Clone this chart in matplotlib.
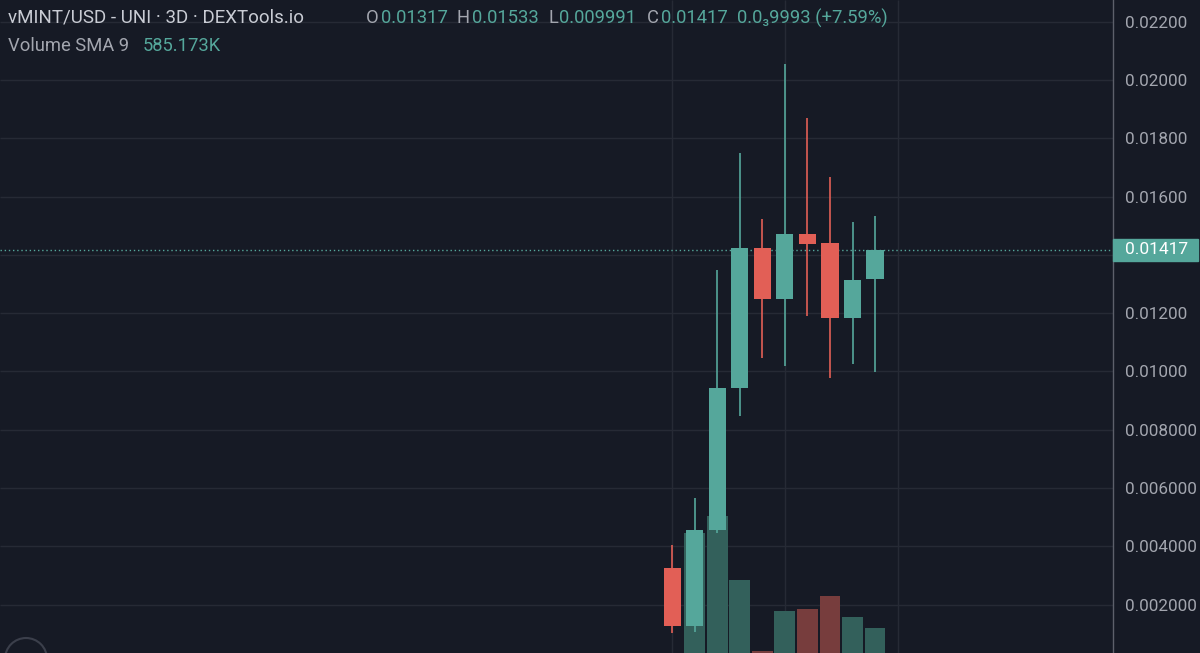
import matplotlib.pyplot as plt
from matplotlib.patches import Rectangle, Circle
from matplotlib.transforms import blended_transform_factory

# vMINT/USD 3D candles
opens = [0.00327, 0.00128, 0.00456, 0.00943, 0.01424, 0.01249, 0.01472, 0.01441, 0.01184, 0.01317]
highs = [0.00405, 0.00566, 0.01348, 0.01750, 0.01523, 0.02055, 0.01870, 0.01667, 0.01513, 0.01533]
lows = [0.00103, 0.00107, 0.00446, 0.00847, 0.01046, 0.01019, 0.01190, 0.00978, 0.01026, 0.009991]
closes = [0.00128, 0.00456, 0.00943, 0.01424, 0.01249, 0.01472, 0.01437, 0.01184, 0.01314, 0.01417]
volumes_k = [220, 917, 1010, 659, 269, 489, 500, 571, 456, 395]

price_ticks = [0.002, 0.004, 0.006, 0.008, 0.010, 0.012, 0.014, 0.016, 0.018, 0.020, 0.022]
price_tick_labels = ["0.002000", "0.004000", "0.006000", "0.008000", "0.01000", "0.01200",
                     "0.01400", "0.01600", "0.01800", "0.02000", "0.02200"]
time_grid = [0, 5, 10]

# colours
BG = "#161a25"
GRID = "#262a35"
UP = "#55a79b"
DOWN = "#e25f56"
UP_VOL = "#33605b"
DOWN_VOL = "#773d3d"
TXT = "#c9ccd4"
AXTXT = "#a3a6af"

plt.rcParams["font.family"] = ["Roboto", "DejaVu Sans"]

fig = plt.figure(figsize=(12, 6.53), dpi=100, facecolor=BG)
rect = [0, 0, 1113 / 1200, 1]

# volume pane underneath
axv = fig.add_axes(rect, facecolor=BG)
ax = fig.add_axes(rect, facecolor="none")

n = len(opens)
xs = list(range(n))
up = [c >= o for o, c in zip(opens, closes)]

ax.set_xlim(-29.8, 19.55)
axv.set_xlim(-29.8, 19.55)
ax.set_ylim(0.000343, 0.022744)
axv.set_ylim(258, 3843)

# grid, drawn in the bottom pane so volume bars cover it
gtrans = blended_transform_factory(axv.transAxes, ax.transData)
axv.hlines(price_ticks, 0, 1, transform=gtrans, color=GRID, lw=1, zorder=0)
axv.vlines(time_grid, 0, 1, transform=axv.get_xaxis_transform(), color=GRID, lw=1, zorder=0)

axv.bar(xs, volumes_k, width=0.92, color=[UP_VOL if u else DOWN_VOL for u in up], zorder=2)
axv.axis("off")

cols = [UP if u else DOWN for u in up]
ax.vlines(xs, lows, highs, color=cols, lw=1.2, zorder=3)
bottoms = [min(o, c) for o, c in zip(opens, closes)]
heights = [abs(c - o) for o, c in zip(opens, closes)]
ax.bar(xs, heights, bottom=bottoms, width=0.76, color=cols, zorder=4)

# last price line
last = closes[-1]
ax.axhline(last, color=UP, lw=1, ls=(0, (1, 2)), zorder=2)

# price scale on the right
ax.yaxis.tick_right()
ax.set_yticks(price_ticks)
ax.set_yticklabels(price_tick_labels)
ax.tick_params(axis="y", length=0, pad=9, labelsize=12.3, labelcolor=AXTXT)
ax.set_xticks([])
for s in ["top", "left", "bottom"]:
    ax.spines[s].set_visible(False)
ax.spines["right"].set_color("#5d606b")
ax.spines["right"].set_linewidth(1)

# the tag for the last price hides the scale label it sits on
for t, lab in zip(price_ticks, ax.get_yticklabels()):
    if abs(t - last) < 0.0006:
        lab.set_visible(False)

# last price tag
ytr = blended_transform_factory(ax.transAxes, ax.transData)
ax.add_patch(Rectangle((1.0, last - 0.00038), 85 / 1113, 0.00076, transform=ytr,
                       color=UP, clip_on=False, zorder=10))
ax.text(1 + 12 / 1113, last, f"{last:.5f}", transform=ytr, color="white",
        fontsize=12.5, va="center", ha="left", zorder=11, clip_on=False)

# header legend
def hdr(xpx, ypx, s, color, size=13.2):
    fig.text(xpx / 1200, 1 - ypx / 653, s, color=color, fontsize=size, va="center", ha="left")

hdr(8, 18, "vMINT/USD - UNI · 3D · DEXTools.io", TXT, 13.5)
hdr(366, 18, "O", AXTXT)
hdr(381, 18, "0.01317", UP)
hdr(457, 18, "H", AXTXT)
hdr(472, 18, "0.01533", UP)
hdr(548, 18, "L", AXTXT)
hdr(559, 18, "0.009991", UP)
hdr(647, 18, "C", AXTXT)
hdr(661, 18, "0.01417", UP)
hdr(737, 18, "0.0\u20839993 (+7.59%)", UP)
hdr(8, 46, "Volume SMA 9", AXTXT)
hdr(143, 46, "585.173K", UP)

# round button peeking in at bottom left
fig.add_artist(Circle((0.26, -0.06), 0.21, transform=fig.dpi_scale_trans,
                      fill=False, edgecolor="#3b3f4b", lw=1.5))

plt.savefig("out.png", dpi=100, facecolor=BG)
